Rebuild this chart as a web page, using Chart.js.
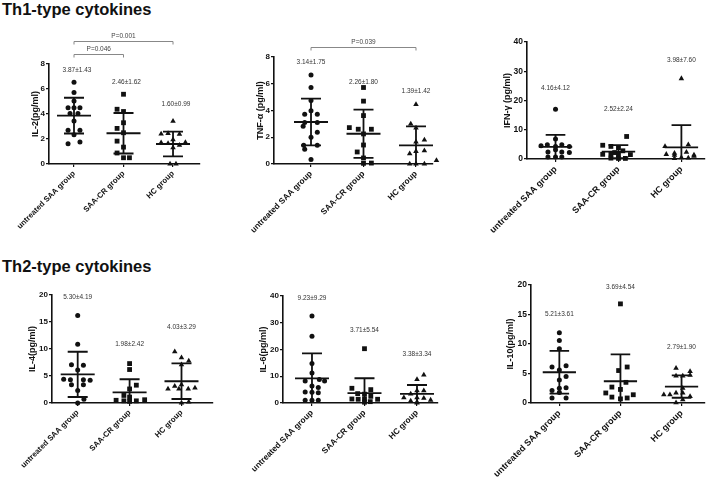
<!DOCTYPE html>
<html><head><meta charset="utf-8">
<script src="https://cdn.jsdelivr.net/npm/chart.js@4"></script>
<style>
html,body{margin:0;padding:0;background:#fff;}
body{width:709px;height:478px;position:relative;overflow:hidden;font-family:"Liberation Sans",Arial,sans-serif;}
.h{position:absolute;left:2px;font-weight:bold;font-size:16.5px;color:#111;line-height:1;white-space:nowrap;}
canvas{position:absolute;}
</style></head><body>
<div class="h" style="top:1px">Th1-type cytokines</div>
<div class="h" style="top:258px">Th2-type cytokines</div>
<canvas id="c1"></canvas><canvas id="c2"></canvas><canvas id="c3"></canvas>
<canvas id="c4"></canvas><canvas id="c5"></canvas><canvas id="c6"></canvas>
<script>
const groups = ["untreated SAA group", "SAA-CR group", "HC group"];

// ---- IL-2 ----
const il2Saa   = [6.55,5.72,5.05,4.5,4.5,4.5,4.05,4.05,3.45,2.7,2.7,2.35,1.77,1.62];
const il2SaaJx = [0,0,0,-0.12,0,0.12,-0.08,0.08,0,-0.12,0.12,0,0.12,-0.12];
const il2Cr    = [5.58,4.38,4.2,3.3,2.85,2.5,1.83,1.35,0.88,0.5,0.5];
const il2CrJx  = [0,-0.13,0,0,-0.13,0,-0.13,0,-0.13,0,0.12];
const il2Hc    = [3.42,2.4,2.45,2.38,1.95,1.7,1.65,1.72,1.5,1.3,0,0];
const il2HcJx  = [0,-0.24,-0.1,0.13,0,-0.24,-0.1,0.25,0.13,0,-0.06,0.06];
const il2Mean  = [3.87,2.46,1.60];
const il2Sd    = [1.43,1.62,0.99];
const il2Ticks = [0,2,4,6,8];
const il2P     = ["P=0.001","P=0.046"];

// ---- TNF-a ----
const tnfSaa   = [6.65,5.72,4.75,3.98,3.72,3.72,3.1,3.1,2.82,2.37,2.0,1.4,1.4,1.1,0.33];
const tnfSaaJx = [0,0,0,0,-0.12,0.12,-0.12,0.12,-0.15,0.12,0,-0.14,0.12,-0.12,0];
const tnfCr    = [5.72,4.7,3.62,2.72,2.6,2.6,2.25,1.42,0.9,0.45,0.05,0.07];
const tnfCrJx  = [0,0,0,-0.27,-0.1,0.15,0,0,-0.12,0,0,0.15];
const tnfHc    = [4.45,3.0,2.7,1.8,1.65,1.0,0.95,0.77,0.27,0,0,0];
const tnfHcJx  = [0,-0.1,0,0.16,0,0.16,0,-0.12,0.39,-0.12,0,0.16];
const tnfMean  = [3.14,2.26,1.39];
const tnfSd    = [1.75,1.80,1.42];
const tnfTicks = [0,2,4,6,8];
const tnfP     = ["P=0.039"];

// ---- IFN-y ----
const ifnSaa   = [17.0,6.8,4.9,4.9,4.5,4.3,4.3,3.2,2.4,2.4,2.2,0.7,0.7,0.7];
const ifnSaaJx = [0,0,-0.13,0.1,-0.23,0.22,0,0,-0.12,0.1,0.22,-0.12,0,0.1];
const ifnCr    = [7.7,4.7,4.3,3.9,2.8,2.2,1.6,1.6,1.6,1.5,0.3,0.2,0.2];
const ifnCrJx  = [0.13,-0.25,-0.12,0,0.07,-0.06,-0.25,-0.12,0,0.19,-0.12,0,0.11];
const ifnHc    = [27.5,4.9,4.3,2.3,2.0,1.6,1.4,1.3,1.0,0.5,0.4,0.2];
const ifnHcJx  = [0,0.11,-0.26,0.08,-0.11,-0.24,0.2,-0.11,0.2,0,0.11,-0.11];
const ifnMean  = [4.16,2.52,3.98];
const ifnSd    = [4.12,2.24,7.60];
const ifnTicks = [0,10,20,30,40];

// ---- IL-4 ----
const il4Saa   = [16.2,10.9,7.1,7.0,6.1,4.4,4.3,4.3,4.2,3.4,3.4,2.3,0.7,0];
const il4SaaJx = [0,0,-0.12,0.11,0,-0.27,-0.14,0.11,0.24,-0.12,0.11,0,0.12,0];
const il4Cr    = [7.3,6.2,3.3,2.6,1.4,1.1,0.5,0.4,0.3,0.4,0.6];
const il4CrJx  = [0,0,0.13,0,-0.11,0,-0.26,-0.11,0,0.13,0.29];
const il4Hc    = [9.5,8.4,7.8,7.1,3.4,3.1,2.8,2.6,2.6,2.6,0.2,0];
const il4HcJx  = [-0.13,0,0.14,0,0,-0.13,0.26,-0.26,-0.05,0.13,0.14,0];
const il4Mean  = [5.30,1.98,4.03];
const il4Sd    = [4.19,2.42,3.29];
const il4Ticks = [0,5,10,15,20];

// ---- IL-6 ----
const il6Saa   = [32.5,25,14.8,11.2,8.8,8.2,8.2,6.4,5.8,4.1,4.0,3.8,1.0,1.0,1.0];
const il6SaaJx = [0,0,0,0,0.14,-0.13,0.24,0,0.12,-0.13,0,0.12,-0.13,0,0.12];
const il6Cr    = [20.3,5.5,5.0,3.5,3.3,2.5,1.5,1.4,1.5,1.4,0.3,0.5];
const il6CrJx  = [0,-0.24,0.12,-0.13,0,0.12,-0.24,-0.12,0,0.25,0,0.11];
const il6Hc    = [10.5,8.8,4.6,4.6,3.4,2.0,2.0,1.8,1.1,0.8,0.4,0];
const il6HcJx  = [0.13,0,0,0.13,-0.12,-0.25,0,0.13,0.26,-0.12,0,0];
const il6Mean  = [9.23,3.71,3.38];
const il6Sd    = [9.29,5.54,3.34];
const il6Ticks = [0,10,20,30,40];

// ---- IL-10 ----
const il10Saa   = [11.9,10.6,9.2,6.3,6.1,5.6,4.5,3.9,2.6,2.5,2.1,1.8,0.85,0.85];
const il10SaaJx = [0,0,0,0.11,-0.12,0,0.11,0,0.11,0,-0.12,0,-0.12,0.11];
const il10Cr    = [16.8,6.1,5.5,3.5,2.7,2.3,1.7,1.4,1.0,0.85,0.7];
const il10CrJx  = [0,0.11,-0.03,0.09,-0.14,0,-0.24,0.21,-0.14,0.11,0];
const il10Hc    = [5.9,5.35,4.7,4.6,4.6,2.5,1.7,1.7,1.4,1.4,1.1,0.55,0.05];
const il10HcJx  = [-0.09,0.14,0.14,-0.09,0.02,0.02,-0.09,0.02,-0.29,-0.19,0.14,0.02,-0.09];
const il10Mean  = [5.21,3.69,2.79];
const il10Sd    = [3.61,4.54,1.90];
const il10Ticks = [0,5,10,15,20];

// ---- layout (pixels / placement only) ----
const panels = [
 {id:'c1', yTitle:'IL-2(pg/ml)', ticks:il2Ticks, mean:il2Mean, sd:il2Sd,
  vals:[il2Saa,il2Cr,il2Hc], jit:[il2SaaJx,il2CrJx,il2HcJx],
  labelY:[7.52,6.56,4.8], labelDx:0.06,
  brackets:[{a:1,b:3,y:9.84,t:il2P[0]},{a:1,b:2,y:8.8,t:il2P[1]}],
  box:{cx:0,cy:22,cw:210,ch:228}, area:{l:49,r:200,t:64,b:164}, xr:[0.495,3.545], titleX:36, fs:7.8, tfs:8},
 {id:'c2', yTitle:'TNF-α (pg/ml)', ticks:tnfTicks, mean:tnfMean, sd:tnfSd,
  vals:[tnfSaa,tnfCr,tnfHc], jit:[tnfSaaJx,tnfCrJx,tnfHcJx],
  labelY:[7.6,6.15,5.46], labelDx:0,
  brackets:[{a:1,b:3,y:8.77,t:tnfP[0]}],
  box:{cx:226,cy:28,cw:214,ch:222}, area:{l:274,r:433,t:57,b:164}, xr:[0.295,3.324], titleX:261, fs:8.3, tfs:8},
 {id:'c3', yTitle:'IFN-γ (pg/ml)', ticks:ifnTicks, mean:ifnMean, sd:ifnSd,
  vals:[ifnSaa,ifnCr,ifnHc], jit:[ifnSaaJx,ifnCrJx,ifnHcJx],
  labelY:[24.2,17.1,33.8], labelDx:0, brackets:[],
  box:{cx:470,cy:30,cw:239,ch:220}, area:{l:527,r:708,t:42,b:159}, xr:[0.547,3.375], titleX:508, fs:9, tfs:8.5},
 {id:'c4', yTitle:'IL-4(pg/ml)', ticks:il4Ticks, mean:il4Mean, sd:il4Sd,
  vals:[il4Saa,il4Cr,il4Hc], jit:[il4SaaJx,il4CrJx,il4HcJx],
  labelY:[19.6,10.95,14.0], labelDx:0, brackets:[],
  box:{cx:0,cy:280,cw:222,ch:198}, area:{l:52,r:213,t:295,b:403}, xr:[0.505,3.607], titleX:33, fs:7.8, tfs:8},
 {id:'c5', yTitle:'IL-6(pg/ml)', ticks:il6Ticks, mean:il6Mean, sd:il6Sd,
  vals:[il6Saa,il6Cr,il6Hc], jit:[il6SaaJx,il6CrJx,il6HcJx],
  labelY:[39.0,27.2,18.1], labelDx:0, brackets:[],
  box:{cx:232,cy:280,cw:212,ch:198}, area:{l:283,r:438,t:296,b:403}, xr:[0.448,3.4], titleX:264, fs:8.3, tfs:8},
 {id:'c6', yTitle:'IL-10(pg/ml)', ticks:il10Ticks, mean:il10Mean, sd:il10Sd,
  vals:[il10Saa,il10Cr,il10Hc], jit:[il10SaaJx,il10CrJx,il10HcJx],
  labelY:[15.1,19.6,9.4], labelDx:0, brackets:[],
  box:{cx:470,cy:275,cw:239,ch:203}, area:{l:531,r:709,t:285,b:403}, xr:[0.536,3.384], titleX:511, fs:9, tfs:8.5}
];

const FAM = '"Liberation Sans", Arial, sans-serif';
Chart.defaults.font.family = FAM;
const INK = '#111';
const shapes = ['circle','rect','triangle'];
const radii = [2.5,3.4,3.2];

panels.forEach(p => {
  const cv = document.getElementById(p.id);
  cv.width = p.box.cw; cv.height = p.box.ch;
  cv.style.left = p.box.cx + 'px'; cv.style.top = p.box.cy + 'px';
  cv.style.width = p.box.cw + 'px'; cv.style.height = p.box.ch + 'px';
  const titleLeft = p.titleX - 5.4;
  const yW = p.area.l - titleLeft;
  const padL = titleLeft - p.box.cx;
  const padT = p.area.t - p.box.cy;
  const padR = p.box.cx + p.box.cw - p.area.r;
  const xH = p.box.cy + p.box.ch - p.area.b;
  const spacing = (p.area.r - p.area.l) / (p.xr[1] - p.xr[0]);
  const hm = 17 / spacing, hc = 10 / spacing;

  const eb = [];
  p.mean.forEach((m, g) => {
    const x = g + 1, s = p.sd[g];
    eb.push({x:x-hm,y:m},{x:x+hm,y:m},{x:x,y:null});
    eb.push({x:x,y:m-s},{x:x,y:m+s},{x:x,y:null});
    eb.push({x:x-hc,y:m+s},{x:x+hc,y:m+s},{x:x,y:null});
    eb.push({x:x-hc,y:m-s},{x:x+hc,y:m-s},{x:x,y:null});
  });
  const datasets = [{
    type:'line', data:eb, showLine:true, spanGaps:false, borderColor:INK, borderWidth:1.8,
    pointRadius:0, fill:false, order:0
  }];
  p.vals.forEach((arr, g) => {
    datasets.push({
      type:'scatter',
      data: arr.map((v,i) => ({x: g + 1 + p.jit[g][i], y: v})),
      pointStyle: shapes[g], pointRadius: radii[g], backgroundColor: INK,
      borderColor: INK, borderWidth: 0, clip: false, order: 1
    });
  });

  const anno = {
    id: 'anno' + p.id,
    afterDatasetsDraw(chart) {
      const {ctx, scales:{x, y}} = chart;
      ctx.save();
      ctx.fillStyle = '#333';
      ctx.font = '6.5px ' + FAM;
      ctx.textAlign = 'center'; ctx.textBaseline = 'middle';
      p.mean.forEach((m, g) => {
        ctx.fillText(m.toFixed(2) + '±' + p.sd[g].toFixed(2),
          x.getPixelForValue(g + 1 + p.labelDx), y.getPixelForValue(p.labelY[g]));
      });
      p.brackets.forEach(b => {
        const x1 = x.getPixelForValue(b.a), x2 = x.getPixelForValue(b.b), yy = Math.round(y.getPixelForValue(b.y)) + 0.5;
        ctx.strokeStyle = '#888'; ctx.lineWidth = 1;
        ctx.beginPath();
        ctx.moveTo(x1, yy + 3); ctx.lineTo(x1, yy); ctx.lineTo(x2, yy); ctx.lineTo(x2, yy + 3);
        ctx.stroke();
        ctx.fillStyle = '#444';
        ctx.fillText(b.t, (x1 + x2) / 2, yy - 5);
      });
      ctx.restore();
    }
  };

  new Chart(cv, {
    type: 'scatter',
    data: { datasets },
    plugins: [anno],
    options: {
      responsive: false, animation: false, devicePixelRatio: 1,
      layout: { padding: { left: padL, top: padT, right: padR, bottom: 0 } },
      plugins: { legend: {display:false}, tooltip: {enabled:false} },
      scales: {
        x: {
          type: 'linear', min: p.xr[0], max: p.xr[1],
          afterBuildTicks: s => { s.ticks = [1,2,3].map(v => ({value:v})); },
          afterFit: s => { s.height = xH; s.paddingLeft = 0; s.paddingRight = 0; },
          ticks: {
            autoSkip:false, minRotation:45, maxRotation:45, padding:2, color:INK,
            font:{size:p.fs, weight:'bold', family:FAM},
            callback: v => groups[Math.round(v) - 1]
          },
          grid: { display:true, drawOnChartArea:false, drawTicks:true, tickLength:3, color:INK, lineWidth:1.2 },
          border: { display:true, color:INK, width:1.6 }
        },
        y: {
          min: p.ticks[0], max: p.ticks[p.ticks.length - 1],
          afterBuildTicks: s => { s.ticks = p.ticks.map(v => ({value:v})); },
          afterFit: s => { s.width = yW; s.paddingTop = 0; s.paddingBottom = 0; },
          ticks: { padding:1, color:INK, font:{size:p.tfs, weight:'bold', family:FAM} },
          grid: { display:true, drawOnChartArea:false, drawTicks:true, tickLength:3, color:INK, lineWidth:1.2 },
          border: { display:true, color:INK, width:1.6 },
          title: { display:true, text:p.yTitle, color:INK, padding:{top:0,bottom:0},
                   font:{size:9, weight:'bold', family:FAM} }
        }
      }
    }
  });
});
</script>
</body></html>
